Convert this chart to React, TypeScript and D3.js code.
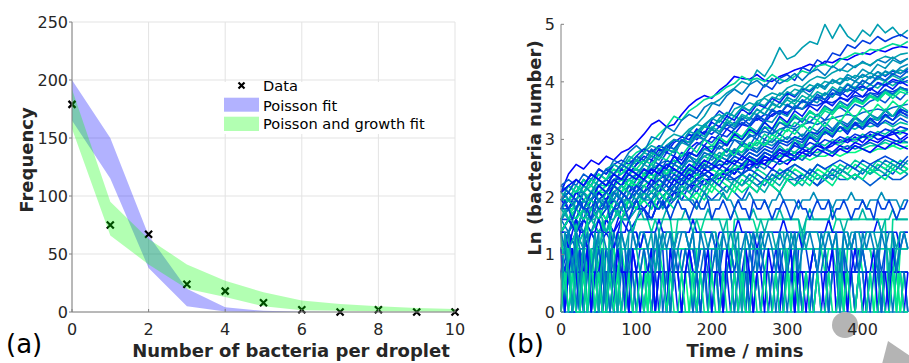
import * as d3 from "d3";
import { useEffect, useRef } from "react";

// panel (a): histogram of bacteria per droplet
const counts = [0, 1, 2, 3, 4, 5, 6, 7, 8, 9, 10];
const frequency = [179, 75, 67, 24, 18, 8, 2, 0, 2, 0, 0];
const poissonUpper = [200, 150, 66, 20, 4, 1, 0.3, 0, 0, 0, 0];
const poissonLower = [165, 115, 38, 5, 0.5, 0, 0, 0, 0, 0, 0];
const growthUpper = [192, 95, 63, 41, 27, 17, 10, 7, 5, 3.5, 2.5];
const growthLower = [158, 66, 41, 20, 13, 5, 1.5, 1, 0.7, 0.4, 0.2];
const countTicks = [0, 2, 4, 6, 8, 10];
const freqTicks = [0, 50, 100, 150, 200, 250];

// panel (b): bacteria counts per droplet over time
const timeTicks = [0, 100, 200, 300, 400];
const lnTicks = [0, 1, 2, 3, 4, 5];
const growStep = 10; // minutes between samples
const lowStep = 5;

const growTraces = [
  [8,11,13,12,14,13,15,14,16,17, 19,22,26,28,25,26,31,36,40,43, 41,47,52,60,58,57,62,56,55,60, 63,67,70,74,71,78,76,82,80,86, 90,88,95,92,98,101,99],
  [5,6,5,7,6,8,7,9,10,11, 13,14,13,16,18,20,19,23,26,30, 37,40,45,49,55,52,67,60,74,99, 81,86,99,110,105,148,116,148,121,110, 134,121,148,128,141,121,134],
  [4,5,4,6,5,6,7,8,7,9, 11,10,14,13,16,15,20,19,24,22, 28,33,30,38,36,44,42,52,48,58, 62,56,70,66,80,74,90,86,104,98, 112,106,120,110,118,124,116],
  [5,6,6,7,8,9,9,11,12,14, 16,17,19,22,25,30,28,33,36,40, 42,45,50,53,60,56,58,55,62,57, 55,60,66,63,72,74,70,80,84,90, 88,96,94,100,106,102,110],
  [6,7,9,8,10,12,11,14,13,16, 18,16,21,20,25,23,28,31,29,35, 38,36,43,48,44,52,56,50,58,53, 57,63,56,64,68,61,72,66,75,70, 78,72,80,76,84,77,82],
  [4,5,4,6,5,7,6,8,9,8, 10,12,11,13,12,15,14,17,19,18, 21,20,24,22,26,25,29,27,31,33, 31,36,34,38,41,38,44,46,42,48, 51,47,54,52,57,55,60],
  [7,9,8,10,9,11,10,13,12,14, 13,16,15,18,17,20,19,22,21,25, 24,28,26,30,28,32,31,35,33,38, 36,40,38,43,41,45,42,48,46,50, 47,52,49,55,51,56,54],
  [3,4,3,4,5,4,5,6,5,7, 6,8,7,9,8,10,11,10,13,12, 15,14,17,16,19,18,22,20,24,22, 26,25,29,27,31,28,33,35,32,37, 35,39,41,38,44,40,46],
  [5,6,5,7,6,8,7,9,10,9, 11,10,12,13,12,14,13,16,15,18, 17,20,19,21,20,23,22,25,24,27, 26,29,28,32,30,34,33,36,35,39, 37,42,40,45,43,48,46],
  [6,7,6,8,7,8,7,9,8,10, 9,11,10,12,11,13,12,14,13,15, 14,16,15,17,16,18,17,19,18,20, 19,21,20,23,21,24,22,25,23,26, 25,28,26,30,28,31,29],
  [8,9,8,10,9,12,11,13,14,13, 15,17,16,18,17,20,19,22,20,23, 22,25,24,27,26,29,28,31,30,33, 32,35,34,37,36,39,38,41,40,43, 42,45,44,47,46,49,48],
  [4,5,4,5,6,5,6,7,6,7, 8,7,8,9,8,9,10,9,10,11, 10,11,12,11,13,12,14,13,15,14, 16,15,17,16,18,17,19,18,20,19, 21,20,22,21,23,22,24],
  [7,7,8,8,9,8,9,10,10,11, 12,11,12,13,14,13,15,16,15,17, 18,17,19,20,19,21,22,23,22,24, 25,24,26,27,26,28,29,30,31,30, 32,33,34,33,35,36,37],
  [3,3,4,3,4,4,5,4,5,5, 6,6,7,6,7,8,8,9,9,10, 10,11,11,12,12,13,13,14,14,15, 15,16,16,17,18,17,19,19,20,20, 21,21,22,21,22,23,22],
  [9,8,10,9,11,10,12,13,12,15, 14,16,18,17,20,22,21,24,26,25, 29,31,28,34,36,33,39,41,38,45, 43,48,46,52,49,55,53,58,56,61, 59,64,60,65,62,67,64],
  [5,6,5,7,6,7,8,7,9,10, 9,11,12,11,14,13,16,15,18,20, 19,22,21,24,27,25,30,28,33,31, 36,34,39,37,42,40,45,43,48,46, 50,48,53,51,55,53,56],
  [7,8,7,8,9,8,9,9,10,9, 10,10,11,10,11,12,11,12,12,13, 12,13,13,14,13,14,14,15,14,15, 15,16,15,16,16,17,16,17,17,18, 17,18,18,19,18,19,19],
  [4,5,4,5,4,6,5,6,7,6, 7,8,7,8,9,8,9,10,9,11, 10,12,11,13,12,14,13,16,15,17, 16,19,18,21,20,23,22,25,24,27, 26,29,28,31,30,34,32],
  [6,7,6,8,7,9,10,9,12,11, 13,15,14,17,16,19,21,20,24,22, 27,25,30,28,34,31,37,35,41,38, 45,42,49,46,52,50,56,53,59,55, 62,58,65,60,66,63,68],
  [8,9,8,9,10,9,10,11,10,11, 12,11,13,12,13,14,13,15,14,15, 16,15,17,16,18,17,19,18,20,19, 21,20,22,21,23,22,24,23,25,24, 26,25,26,27,25,27,26],
  [9,10,9,11,10,9,10,11,10,10, 11,10,9,10,11,10,10,11,10,9, 10,11,10,10,11,10,9,10,10,11, 10,10,11,10,9,10,11,10,10,11, 10,9,10,11,10,10,11],
  [7,7,8,7,8,8,8,9,8,9, 9,9,10,9,10,10,11,10,11,11, 12,11,12,12,13,12,13,13,14,13, 14,14,15,14,15,15,16,15,16,16, 17,16,17,17,18,17,18],
  [5,6,7,6,8,9,8,10,11,12, 14,13,16,15,18,20,19,23,22,26, 29,27,32,30,35,33,38,36,42,40, 46,43,49,47,53,50,56,52,59,55, 62,58,65,61,67,63,70],
  [6,6,7,6,7,8,7,8,9,8, 9,10,9,11,10,12,11,13,12,14, 13,15,14,16,15,17,16,18,17,20, 19,21,20,23,22,25,23,27,25,29, 27,31,28,33,30,34,32],
  [3,4,3,4,5,4,5,6,5,7, 6,8,7,9,8,10,9,12,11,13, 12,15,14,17,16,19,18,22,20,24, 23,27,25,30,28,33,31,36,34,40, 38,43,41,46,44,49,47],
  [5,4,6,5,7,6,5,8,7,9, 8,10,9,8,11,10,12,11,14,12, 13,15,14,17,15,18,16,20,19,22, 20,24,21,25,23,27,24,28,26,30, 27,31,29,33,30,32,31],
  [3,4,3,5,4,3,5,4,6,5, 7,6,5,7,8,7,9,8,10,9, 11,10,12,11,13,12,14,13,15,14, 16,15,17,16,19,17,18,20,19,21, 19,22,20,21,23,20,22],
  [7,8,7,9,8,10,9,11,13,12, 14,13,16,15,18,17,20,19,23,21, 25,23,28,26,31,29,34,31,37,35, 40,37,43,40,46,43,50,46,53,49, 56,52,58,55,61,57,60],
  [4,5,4,5,6,5,4,6,5,6, 7,6,5,7,6,7,8,7,6,8, 7,8,9,8,7,9,8,10,9,8, 10,9,11,10,9,11,10,12,11,10, 12,11,13,12,11,13,12],
  [6,5,7,6,8,7,6,9,8,10, 9,11,10,12,11,13,12,11,14,13, 16,14,17,15,19,17,20,18,22,20, 24,22,26,23,28,25,30,27,33,29, 35,31,37,33,39,35,40],
  [5,6,5,6,7,6,7,8,7,9, 8,10,9,11,12,11,13,15,14,17, 16,19,18,22,21,25,23,28,27,32, 30,36,34,40,38,45,42,50,47,55, 52,60,57,66,62,70,74],
  [2,3,2,3,4,3,4,3,5,4, 5,6,5,7,6,8,7,9,8,10, 9,11,10,12,11,14,12,15,14,17, 15,19,17,21,19,23,21,25,22,27, 24,29,26,31,28,33,30],
  [8,7,9,8,10,9,8,10,9,11, 10,12,11,10,12,11,13,12,14,13, 12,14,13,15,14,16,15,17,16,15, 17,16,18,17,19,18,20,19,21,20, 22,21,23,22,24,23,24],
  [4,5,4,6,5,7,6,8,7,9, 8,10,9,12,10,13,12,15,13,16, 15,18,16,20,18,22,20,25,22,27, 25,30,27,33,30,36,33,39,36,42, 39,45,42,48,44,50,47],
  [7,6,8,7,6,8,7,9,8,7, 9,8,10,9,8,10,9,11,10,12, 11,10,12,11,13,12,14,13,12,14, 13,15,14,16,15,17,16,18,17,19, 18,20,19,21,20,19,21],
  [3,4,5,4,6,7,6,8,9,11, 10,13,12,15,17,16,20,19,23,26, 24,29,32,30,35,38,36,42,45,43, 49,52,50,56,60,58,64,68,65,72, 76,73,80,85,82,88,90],
  [5,5,6,5,7,6,7,6,8,7, 8,9,8,10,9,11,10,12,11,13, 12,14,13,15,14,16,15,17,16,19, 18,20,19,22,20,23,21,25,23,26, 24,27,25,28,26,29,27],
  [8,9,8,10,9,11,10,12,11,13, 12,14,13,15,14,17,15,18,16,20, 18,21,19,23,21,25,22,27,24,29, 26,31,28,33,30,35,32,38,34,41, 37,43,39,45,41,46,44],
  [4,4,5,4,5,6,5,6,5,7, 6,7,8,7,8,9,8,9,10,9, 10,11,10,12,11,12,13,12,14,13, 14,15,14,16,15,17,16,17,18,17, 18,19,18,20,19,20,19],
  [6,7,6,8,7,9,8,10,9,11, 10,12,11,13,12,15,13,16,15,18, 16,20,18,22,20,24,22,27,24,30, 27,33,30,36,33,39,36,42,39,46, 42,49,45,52,48,55,51],
  [3,3,4,3,4,5,4,5,6,5, 6,7,6,8,7,9,8,10,9,11, 10,12,11,13,12,15,13,16,15,18, 16,20,18,22,20,24,22,27,24,29, 26,31,28,34,30,36,33],
  [9,8,10,9,11,10,12,11,13,12, 15,14,17,15,18,17,20,18,22,20, 24,22,26,24,29,26,31,28,34,31, 37,34,40,37,44,40,48,44,52,48, 56,52,60,56,63,59,66],
  [5,6,5,6,7,6,5,7,6,7, 6,8,7,6,8,7,9,8,7,9, 8,10,9,8,10,9,11,10,9,11, 10,12,11,10,12,11,13,12,11,13, 12,11,13,12,14,13,12],
  [7,8,7,9,8,10,9,11,10,12, 11,13,15,14,17,16,19,18,21,20, 24,22,27,25,30,28,34,31,38,35, 42,39,47,43,52,48,57,53,62,58, 68,63,74,69,80,75,82],
  [4,5,4,5,6,5,6,7,6,8, 7,8,9,8,10,9,11,10,12,11, 12,13,12,14,13,15,14,16,15,17, 16,18,17,19,18,20,19,21,20,22, 21,23,22,24,23,25,24],
  [6,7,6,8,7,6,8,7,9,8, 7,9,8,10,9,8,10,9,11,10, 9,11,10,9,11,10,12,11,10,12, 11,13,12,11,13,12,11,13,12,14, 13,12,14,13,12,14,13],
  [5,6,7,6,5,7,6,8,7,6, 8,7,9,8,7,9,8,7,9,8, 10,9,8,10,9,11,10,9,11,10, 12,11,10,12,11,10,12,11,13,12, 11,13,12,14,13,12,14],
  [8,9,10,9,11,10,9,11,10,12, 11,10,12,11,13,12,11,13,12,14, 13,12,14,13,15,14,13,15,14,16, 15,14,16,15,17,16,15,17,16,18, 17,16,18,17,19,18,17],
  [6,5,6,7,6,7,8,7,6,8, 7,8,7,9,8,7,9,8,9,8, 10,9,8,10,9,10,9,8,10,9, 11,10,9,11,10,11,10,12,11,10, 12,11,12,11,13,12,11],
  [7,8,7,6,8,7,8,9,8,7, 9,8,9,10,9,8,10,9,10,11, 10,9,11,10,11,12,11,10,12,11, 12,13,12,11,13,12,13,14,13,12, 14,13,14,15,14,13,15],
  [4,5,6,5,6,5,7,6,5,7, 6,7,6,8,7,6,8,7,8,7, 9,8,7,9,8,9,8,10,9,8, 10,9,10,9,11,10,9,11,10,11, 10,12,11,10,12,11,12],
];

const lowTraces = [
  [1,1,1,1,1,1,1,1,1,1, 1,1,1,1,1,1,1,1,1,1, 1,1,1,1,1,1,1,1,1,1, 1,1,1,1,1,1,1,1,1,1, 1,1,1,1,1,1,1,1,1,1, 1,1,1,1,1,1,1,1,1,1, 1,1,1,1,1,1,1,1,1,1, 1,1,1,1,1,1,1,1,1,1, 1,1,1,1,1,1,1,1,1,1, 1,1,1],
  [2,1,2,1,1,2,1,2,2,1, 2,1,2,1,2,2,1,2,1,1, 2,2,1,2,1,2,1,2,2,1, 2,1,1,2,2,1,2,1,2,2, 1,2,2,1,2,1,2,2,1,2, 2,1,2,2,2,1,2,2,1,2, 2,2,1,2,2,2,2,1,2,2, 1,2,2,2,2,1,2,2,2,2, 2,1,2,2,2,2,1,2,2,2, 2,2,2],
  [1,2,2,1,2,3,2,1,2,2, 1,2,1,2,2,2,1,2,2,1, 2,2,2,1,2,1,2,2,2,1, 2,2,1,2,2,2,2,1,2,2, 2,2,1,2,2,2,1,2,2,2, 2,2,2,1,2,2,2,2,2,1, 2,2,2,2,1,2,2,2,2,2, 2,1,2,2,2,2,2,2,1,2, 2,2,2,2,1,2,2,2,2,2, 1,2,2],
  [3,3,2,3,1,3,3,2,3,3, 1,3,3,3,2,3,3,3,1,3, 3,3,3,2,3,3,3,3,3,1, 3,3,3,3,3,3,2,3,3,3, 3,3,3,1,3,3,3,3,3,3, 3,2,3,3,3,3,3,3,3,1, 3,3,3,3,3,3,3,3,2,3, 3,3,3,3,3,3,1,3,3,3, 3,3,3,3,3,2,3,3,3,3, 3,3,3],
  [2,2,3,2,2,1,2,2,2,3, 2,2,2,1,2,2,3,2,2,2, 2,1,2,2,2,2,3,2,2,1, 2,2,2,2,1,2,2,2,2,2, 1,2,2,2,2,3,2,2,2,1, 2,2,2,2,2,2,1,2,2,2, 2,2,3,2,2,2,1,2,2,2, 2,2,2,2,1,2,2,2,2,3, 2,2,2,1,2,2,2,2,2,2, 1,2,2],
  [4,1,3,1,4,2,1,3,1,2, 4,1,3,2,1,4,3,1,4,4, 4,3,4,4,4,4,2,4,4,4, 4,4,4,4,3,4,4,4,4,4, 4,4,2,4,4,4,4,4,4,4, 4,3,4,4,4,4,4,4,4,4, 4,4,4,1,4,4,4,4,4,4, 4,4,4,4,4,4,3,4,4,4, 4,4,4,4,4,4,4,4,4,2, 4,4,4],
  [3,2,3,3,2,3,1,3,2,3, 3,2,3,3,3,2,3,1,3,3, 2,3,3,3,2,3,3,3,1,3, 3,2,3,3,3,3,2,3,3,1, 3,3,2,3,3,3,2,3,3,3, 1,3,3,2,3,3,3,3,2,3, 3,3,1,3,3,3,2,3,3,3, 3,2,3,3,1,3,3,3,2,3, 3,3,3,2,3,1,3,3,3,2, 3,3,3],
  [5,1,4,2,5,1,3,5,1,4, 2,5,1,5,3,1,5,5,5,4, 5,5,5,5,4,5,5,5,5,5, 3,5,5,5,5,5,5,4,5,5, 5,5,5,5,5,2,5,5,5,5, 5,5,4,5,5,5,5,5,5,5, 5,5,5,5,3,5,5,5,5,5, 5,5,4,5,5,5,5,5,5,5, 5,5,5,5,5,5,5,1,5,5, 5,5,5],
  [2,1,2,2,1,2,2,2,1,2, 2,1,2,2,2,1,2,2,1,2, 2,2,1,2,2,1,2,2,2,1, 2,2,1,2,2,2,1,2,2,1, 2,2,2,1,2,2,1,2,2,2, 1,2,2,1,2,2,2,1,2,2, 1,2,2,2,1,2,2,1,2,2, 2,1,2,2,1,2,2,2,1,2, 2,1,2,2,2,1,2,2,1,2, 2,2,1],
  [4,4,3,4,5,4,4,3,4,4, 5,4,4,4,3,4,4,4,5,4, 4,3,4,4,4,4,5,4,4,4, 3,4,4,4,4,5,4,4,4,4, 4,3,4,4,4,4,4,5,4,4, 4,4,3,4,4,4,4,4,4,5, 4,4,4,4,3,4,4,4,4,4, 4,5,4,4,4,4,4,3,4,4, 4,4,4,4,5,4,4,4,4,4, 3,4,4],
  [5,6,5,5,4,5,6,5,5,5, 6,5,4,5,5,6,5,5,5,4, 5,6,5,5,5,5,4,5,6,5, 5,5,5,6,5,4,5,5,5,6, 5,5,5,4,5,5,6,5,5,5, 5,6,5,5,4,5,5,5,6,5, 5,5,5,5,4,5,6,5,5,5, 5,5,6,5,5,4,5,5,5,5, 6,5,5,5,5,4,5,5,6,5, 5,5,5],
  [1,2,1,1,2,1,3,1,2,1, 1,2,1,3,1,2,1,1,2,2, 2,2,2,2,1,2,2,2,2,2, 2,2,2,2,2,2,2,1,2,2, 2,2,2,2,2,2,2,2,2,2, 2,1,2,2,2,2,2,2,2,2, 2,2,2,2,2,2,1,2,2,2, 2,2,2,2,2,2,2,2,2,2, 2,2,1,2,2,2,2,2,2,2, 2,2,2],
  [3,3,3,2,3,3,3,3,2,3, 3,3,3,3,3,2,3,3,3,3, 3,3,3,1,3,3,3,3,3,3, 3,3,3,3,3,1,3,3,3,3, 2,3,3,3,3,3,3,3,1,3, 3,3,3,3,2,3,3,3,3,3, 3,1,3,3,3,3,3,3,3,3, 2,3,3,3,3,1,3,3,3,3, 3,3,3,2,3,3,3,3,3,1, 3,3,3],
  [7,8,7,7,6,7,8,7,7,8, 7,7,6,7,7,8,7,7,7,6, 7,8,7,7,7,8,7,6,7,7, 7,8,7,7,7,7,6,7,8,7, 7,7,7,8,7,7,6,7,7,7, 8,7,7,7,7,6,7,7,8,7, 7,7,7,6,7,7,7,8,7,7, 7,7,6,7,7,7,7,8,7,7, 7,6,7,7,7,8,7,7,7,7, 6,7,7],
  [2,2,2,2,2,2,2,2,2,2, 2,2,2,2,2,3,2,2,2,2, 2,2,2,2,2,2,2,2,2,2, 2,2,2,2,3,2,2,2,2,2, 2,2,2,2,2,2,2,2,2,2, 2,2,2,2,2,2,2,3,2,2, 2,2,2,2,2,2,2,2,2,2, 2,2,2,2,2,2,2,2,2,2, 3,2,2,2,2,2,2,2,2,2, 2,2,2],
  [2,1,3,1,2,1,1,3,1,2, 1,3,1,1,2,1,3,3,3,3, 3,2,3,3,3,3,3,3,3,3, 3,3,2,3,3,3,3,3,3,3, 3,3,3,3,3,3,3,2,3,3, 3,3,3,3,3,3,3,3,3,3, 2,3,3,3,3,3,3,3,3,3, 3,3,3,2,3,3,3,3,3,3, 3,3,3,3,3,3,3,3,2,3, 3,3,3],
  [2,3,2,1,3,2,2,3,1,2, 3,2,2,1,2,3,2,2,3,2, 1,2,3,2,2,2,3,1,2,2, 3,2,2,3,2,1,2,2,3,2, 2,3,1,2,2,3,2,2,2,1, 3,2,2,3,2,2,1,2,3,2, 2,2,3,2,1,2,2,3,2,2, 3,1,2,2,2,3,2,2,1,2, 3,2,2,2,3,1,2,2,3,2, 2,2,1],
  [3,1,2,3,2,1,2,3,1,2, 2,3,1,2,1,3,2,2,1,3, 2,1,2,2,3,1,2,2,1,3, 2,2,1,2,3,2,1,2,2,3, 1,2,2,1,3,2,2,1,2,3, 2,1,2,2,1,3,2,2,1,2, 2,3,1,2,2,1,2,3,2,1, 2,2,3,1,2,2,1,2,3,2, 1,2,2,3,1,2,2,1,3,2, 2,1,2],
  [1,4,2,1,3,1,4,1,2,4, 1,3,1,4,2,1,4,3,4,4, 3,4,4,3,4,2,4,3,4,4, 3,4,4,4,3,4,2,4,4,3, 4,4,3,4,4,4,3,4,1,4, 3,4,4,3,4,4,4,3,4,4, 2,4,3,4,4,3,4,4,4,3, 4,4,3,4,1,4,4,3,4,4, 3,4,4,4,3,4,4,2,4,3, 4,4,3],
  [6,7,6,5,6,7,6,6,5,7, 6,6,7,5,6,6,7,6,5,6, 7,6,6,5,7,6,6,7,6,5, 6,7,6,6,5,6,7,6,6,7, 5,6,6,7,6,5,6,7,6,6, 5,7,6,6,7,6,5,6,6,7, 6,5,6,7,6,6,5,6,7,6, 6,7,5,6,6,7,6,5,6,6, 7,6,6,5,7,6,6,7,6,5, 6,6,7],
  [1,2,1,2,1,1,2,1,3,1, 2,1,1,2,1,2,1,1,2,1, 1,2,1,2,1,1,1,2,1,2, 1,1,2,1,1,2,1,2,1,1, 2,1,1,2,1,1,2,1,2,1, 1,2,1,1,2,1,1,2,1,1, 2,1,2,1,1,2,1,1,2,1, 1,2,1,1,2,1,2,1,1,2, 1,1,2,1,1,2,1,1,2,1, 2,1,1],
  [4,3,4,2,4,3,3,4,2,3, 4,4,3,2,4,3,4,3,2,4, 3,4,4,3,2,4,3,4,3,4, 2,3,4,4,3,4,2,4,3,3, 4,3,2,4,3,4,4,2,3,4, 3,4,2,4,3,4,3,2,4,3, 4,3,4,2,3,4,4,3,2,4, 3,4,3,4,2,4,3,3,4,2, 4,3,4,3,2,4,3,4,4,2, 3,4,3],
];

const FONT = "DejaVu Sans, sans-serif";
const TEXT = "#262626";
const AXIS = "#808080";
const GRID = "#e3e3e3";

const App = () => {
  const ref = useRef<SVGSVGElement>(null);

  useEffect(() => {
    const svg = d3.select(ref.current);

    // ---------- panel (a) ----------
    const xa = d3.scaleLinear().domain([0, 10]).range([72, 455]);
    const ya = d3.scaleLinear().domain([0, 250]).range([312, 22]);
    const ga = svg.append("g");

    ga.selectAll(".gx")
      .data(countTicks)
      .join("line")
      .attr("x1", (d) => xa(d))
      .attr("x2", (d) => xa(d))
      .attr("y1", ya(0))
      .attr("y2", ya(250))
      .attr("stroke", GRID);
    ga.selectAll(".gy")
      .data(freqTicks)
      .join("line")
      .attr("x1", xa(0))
      .attr("x2", xa(10))
      .attr("y1", (d) => ya(d))
      .attr("y2", (d) => ya(d))
      .attr("stroke", GRID);

    // legend background hides the grid
    ga.append("rect").attr("x", 220).attr("y", 82).attr("width", 234).attr("height", 52).attr("fill", "#fff");

    const band = (lo: number[], hi: number[]) =>
      d3
        .area<number>()
        .x((d) => xa(d))
        .y0((d, i) => ya(lo[i]))
        .y1((d, i) => ya(hi[i]))(counts);

    ga.append("path").attr("d", band(poissonLower, poissonUpper)).attr("fill", "#0000ff").attr("fill-opacity", 0.3);

    const cross = "M-3.5,-3.5L3.5,3.5M-3.5,3.5L3.5,-3.5";
    ga.selectAll(".mk")
      .data(counts)
      .join("path")
      .attr("transform", (d, i) => `translate(${xa(d)},${ya(frequency[i])})`)
      .attr("d", cross)
      .attr("stroke", "#000")
      .attr("stroke-width", 2.2);

    ga.append("path").attr("d", band(growthLower, growthUpper)).attr("fill", "#00ff00").attr("fill-opacity", 0.3);

    // axes
    ga.append("line").attr("x1", xa(0)).attr("x2", xa(0)).attr("y1", ya(0)).attr("y2", ya(250)).attr("stroke", AXIS);
    ga.append("line").attr("x1", xa(0)).attr("x2", xa(10)).attr("y1", ya(0)).attr("y2", ya(0)).attr("stroke", AXIS);
    ga.selectAll(".ty")
      .data(freqTicks)
      .join("line")
      .attr("x1", xa(0) - 3)
      .attr("x2", xa(0))
      .attr("y1", (d) => ya(d))
      .attr("y2", (d) => ya(d))
      .attr("stroke", AXIS);
    ga.selectAll(".tx")
      .data(countTicks)
      .join("line")
      .attr("x1", (d) => xa(d))
      .attr("x2", (d) => xa(d))
      .attr("y1", ya(0))
      .attr("y2", ya(0) - 3)
      .attr("stroke", AXIS);

    ga.selectAll(".ly")
      .data(freqTicks)
      .join("text")
      .attr("x", xa(0) - 4)
      .attr("y", (d) => ya(d))
      .attr("dy", "0.36em")
      .attr("text-anchor", "end")
      .attr("font-family", FONT)
      .attr("font-size", 16)
      .attr("fill", TEXT)
      .text((d) => d);
    ga.selectAll(".lx")
      .data(countTicks)
      .join("text")
      .attr("x", (d) => xa(d))
      .attr("y", 335)
      .attr("text-anchor", "middle")
      .attr("font-family", FONT)
      .attr("font-size", 16)
      .attr("fill", TEXT)
      .text((d) => d);

    ga.append("text")
      .attr("transform", "translate(33,160) rotate(-90)")
      .attr("text-anchor", "middle")
      .attr("font-family", FONT)
      .attr("font-size", 18)
      .attr("font-weight", "bold")
      .attr("fill", TEXT)
      .text("Frequency");
    ga.append("text")
      .attr("x", 291)
      .attr("y", 357)
      .attr("text-anchor", "middle")
      .attr("font-family", FONT)
      .attr("font-size", 18)
      .attr("font-weight", "bold")
      .attr("fill", TEXT)
      .text("Number of bacteria per droplet");
    ga.append("text")
      .attr("x", 6)
      .attr("y", 353)
      .attr("font-family", FONT)
      .attr("font-size", 26)
      .attr("fill", "#000")
      .text("(a)");

    // legend
    const lf = 14.6;
    ga.append("path").attr("transform", "translate(241.5,85.5)").attr("d", "M-3,-3L3,3M-3,3L3,-3").attr("stroke", "#000").attr("stroke-width", 2.2);
    ga.append("rect").attr("x", 224).attr("y", 97.7).attr("width", 35).attr("height", 14).attr("fill", "#0000ff").attr("fill-opacity", 0.3);
    ga.append("rect").attr("x", 224).attr("y", 116.7).attr("width", 35).attr("height", 14.3).attr("fill", "#00ff00").attr("fill-opacity", 0.3);
    [
      ["Data", 91],
      ["Poisson fit", 110.7],
      ["Poisson and growth fit", 129.3],
    ].forEach(([t, yy]) =>
      ga.append("text")
        .attr("x", 263)
        .attr("y", yy as number)
        .attr("font-family", FONT)
        .attr("font-size", lf)
        .attr("fill", "#000")
        .text(t as string)
    );

    // ---------- panel (b) ----------
    const xb = d3.scaleLinear().domain([0, 600]).range([561, 1013.4]);
    const yb = d3.scaleLinear().domain([0, 5]).range([312, 24.3]);
    const gb = svg.append("g");
    const winter = d3.interpolateRgb("#0000ff", "#00ff80");

    const traces = [
      ...growTraces.map((v) => ({ v, step: growStep })),
      ...lowTraces.map((v) => ({ v, step: lowStep })),
    ];
    traces.forEach((tr, i) => {
      const line = d3
        .line<number>()
        .x((d, j) => xb(j * tr.step))
        .y((d) => yb(Math.log(d)));
      gb.append("path")
        .attr("d", line(tr.v))
        .attr("fill", "none")
        .attr("stroke", winter((i * 0.618034) % 1))
        .attr("stroke-width", 1.6)
        .attr("stroke-linejoin", "round");
    });

    gb.append("line").attr("x1", xb(0)).attr("x2", xb(0)).attr("y1", yb(0)).attr("y2", yb(5)).attr("stroke", AXIS);
    gb.selectAll(".ty")
      .data(lnTicks)
      .join("line")
      .attr("x1", xb(0))
      .attr("x2", xb(0) + 3)
      .attr("y1", (d) => yb(d))
      .attr("y2", (d) => yb(d))
      .attr("stroke", AXIS);

    // grey overlay marks present in the picture
    gb.append("circle").attr("cx", 845).attr("cy", 325).attr("r", 13).attr("fill", "#b4b4b4");
    gb.append("polygon").attr("points", "888,341 925,366 880,372").attr("fill", "#b4b4b4");

    gb.selectAll(".ly")
      .data(lnTicks)
      .join("text")
      .attr("x", xb(0) - 6)
      .attr("y", (d) => yb(d))
      .attr("dy", "0.36em")
      .attr("text-anchor", "end")
      .attr("font-family", FONT)
      .attr("font-size", 16)
      .attr("fill", TEXT)
      .text((d) => d);
    gb.selectAll(".lx")
      .data(timeTicks)
      .join("text")
      .attr("x", (d) => xb(d))
      .attr("y", 335)
      .attr("text-anchor", "middle")
      .attr("font-family", FONT)
      .attr("font-size", 16)
      .attr("fill", TEXT)
      .text((d) => d);

    gb.append("text")
      .attr("transform", "translate(541,148) rotate(-90)")
      .attr("text-anchor", "middle")
      .attr("font-family", FONT)
      .attr("font-size", 18)
      .attr("font-weight", "bold")
      .attr("fill", TEXT)
      .text("Ln (bacteria number)");
    gb.append("text")
      .attr("x", 745)
      .attr("y", 357)
      .attr("text-anchor", "middle")
      .attr("font-family", FONT)
      .attr("font-size", 18)
      .attr("font-weight", "bold")
      .attr("fill", TEXT)
      .text("Time / mins");
    gb.append("text")
      .attr("x", 507)
      .attr("y", 353)
      .attr("font-family", FONT)
      .attr("font-size", 26)
      .attr("fill", "#000")
      .text("(b)");

    return () => {
      svg.selectAll("*").remove();
    };
  }, []);

  return (
    <svg
      ref={ref}
      width={909}
      height={363}
      style={{ position: "absolute", left: 0, top: 0, background: "#fff", display: "block" }}
    />
  );
};

export default App;
